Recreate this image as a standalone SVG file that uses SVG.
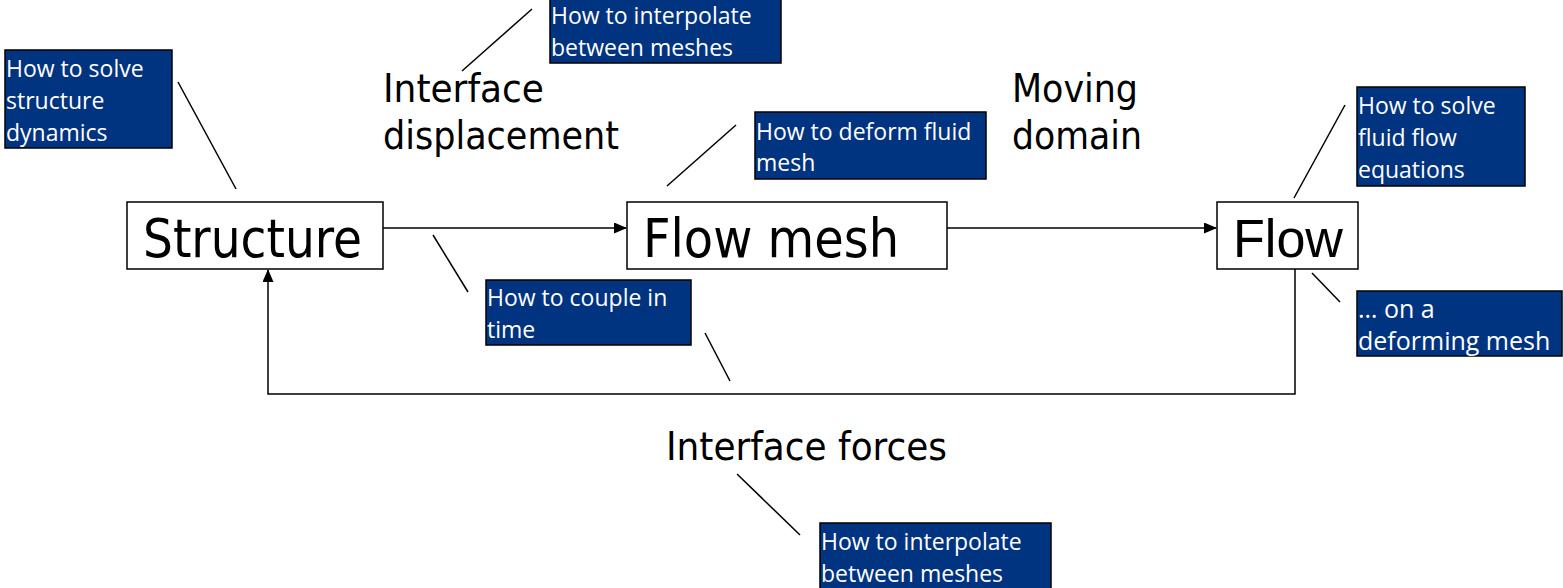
<svg xmlns="http://www.w3.org/2000/svg" width="1563" height="588" viewBox="0 0 1563 588">
<style>
.box{fill:#fff;stroke:#000;stroke-width:1.5}
.call{fill:#003380;stroke:#000;stroke-width:1.5}
.ct{font-family:"Open Sans","Noto Sans",sans-serif;font-size:23px;fill:#fff}
.big{font-family:"DejaVu Sans Condensed","DejaVu Sans",sans-serif;font-size:39px;fill:#000}
.node{font-family:"DejaVu Sans Condensed","DejaVu Sans",sans-serif;font-size:54px;fill:#000}
.ln{stroke:#000;stroke-width:1.5;fill:none}
</style>
<defs>
<marker id="ah" markerWidth="13" markerHeight="11" refX="12" refY="5.5" orient="auto" markerUnits="userSpaceOnUse">
<path d="M0,0 L13,5.5 L0,11 z" fill="#000"/>
</marker>
</defs>
<g id="connectors">
<line class="ln" x1="383" y1="228" x2="626" y2="228" marker-end="url(#ah)"/>
<line class="ln" x1="947" y1="228" x2="1216" y2="228" marker-end="url(#ah)"/>
<polyline class="ln" points="1295,269 1295,394 268,394 268,270" marker-end="url(#ah)"/>
<line class="ln" x1="178" y1="82" x2="236" y2="189"/>
<line class="ln" x1="532" y1="9" x2="462" y2="71"/>
<line class="ln" x1="736" y1="125" x2="667" y2="186"/>
<line class="ln" x1="433" y1="235" x2="468" y2="292"/>
<line class="ln" x1="705" y1="333" x2="730" y2="381"/>
<line class="ln" x1="1345" y1="105" x2="1294" y2="198"/>
<line class="ln" x1="1312" y1="273" x2="1340" y2="302"/>
<line class="ln" x1="737" y1="474" x2="800" y2="535"/>
</g>
<g id="node-structure">
<rect class="box" x="127" y="202" width="256" height="67"/>
<text class="node" x="143" y="257" textLength="219" lengthAdjust="spacingAndGlyphs">Structure</text>
</g>
<g id="node-flowmesh">
<rect class="box" x="627" y="202" width="320" height="67"/>
<text class="node" x="643" y="257" textLength="256" lengthAdjust="spacingAndGlyphs">Flow mesh</text>
</g>
<g id="node-flow">
<rect class="box" x="1217" y="202" width="141" height="67"/>
<text x="1233" y="257" style="font-family:'Liberation Sans',Arial,sans-serif;font-size:54px" textLength="110" lengthAdjust="spacingAndGlyphs">Flow</text>
</g>
<g id="label-interface-displacement">
<text class="big" x="383" y="102" textLength="161" lengthAdjust="spacingAndGlyphs">Interface</text>
<text class="big" x="383" y="149" textLength="236" lengthAdjust="spacingAndGlyphs">displacement</text>
</g>
<g id="label-moving-domain">
<text class="big" x="1012" y="102" textLength="126" lengthAdjust="spacingAndGlyphs">Moving</text>
<text class="big" x="1012" y="149" textLength="130" lengthAdjust="spacingAndGlyphs">domain</text>
</g>
<g id="label-interface-forces">
<text class="big" x="666" y="460" textLength="281" lengthAdjust="spacingAndGlyphs">Interface forces</text>
</g>
<g id="callout-structure">
<rect class="call" x="5" y="50" width="167" height="98"/>
<text class="ct" x="6" y="77">How to solve</text>
<text class="ct" x="6" y="109">structure</text>
<text class="ct" x="6" y="141">dynamics</text>
</g>
<g id="callout-interp-top">
<rect class="call" x="550" y="-2" width="231" height="65"/>
<text class="ct" x="551" y="24">How to interpolate</text>
<text class="ct" x="551" y="56">between meshes</text>
</g>
<g id="callout-deform">
<rect class="call" x="755" y="112" width="231" height="67"/>
<text class="ct" x="756" y="140">How to deform fluid</text>
<text class="ct" x="756" y="171">mesh</text>
</g>
<g id="callout-couple">
<rect class="call" x="486" y="280" width="205" height="65"/>
<text class="ct" x="487" y="306">How to couple in</text>
<text class="ct" x="487" y="338">time</text>
</g>
<g id="callout-fluid">
<rect class="call" x="1357" y="87" width="168" height="99"/>
<text class="ct" x="1358" y="114">How to solve</text>
<text class="ct" x="1358" y="146">fluid flow</text>
<text class="ct" x="1358" y="178">equations</text>
</g>
<g id="callout-deforming">
<rect class="call" x="1357" y="291" width="205" height="65"/>
<text class="ct" x="1358" y="318" style="font-size:25px">… on a</text>
<text class="ct" x="1358" y="350" style="font-size:25px">deforming mesh</text>
</g>
<g id="callout-interp-bottom">
<rect class="call" x="820" y="523" width="231" height="70"/>
<text class="ct" x="821" y="550">How to interpolate</text>
<text class="ct" x="821" y="582">between meshes</text>
</g>
</svg>
